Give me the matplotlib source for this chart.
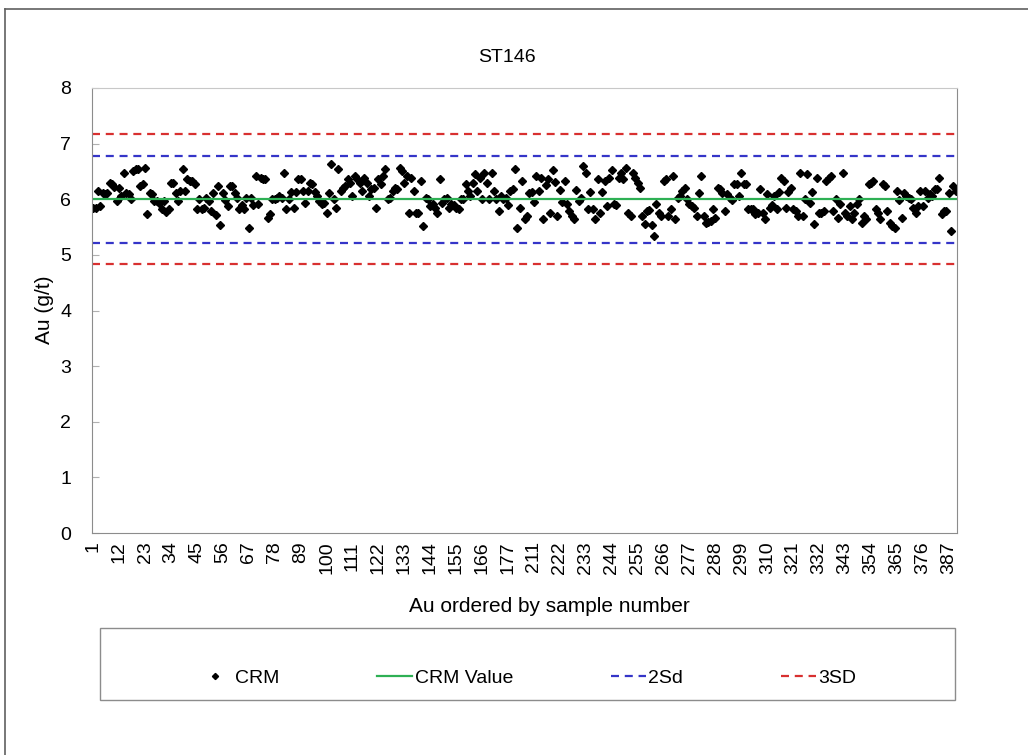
import numpy as np
import matplotlib.pyplot as plt
from matplotlib.lines import Line2D
from matplotlib.patches import Rectangle

plt.rcParams['font.family'] = ['Liberation Sans', 'DejaVu Sans']

# Numery próbek (oś kategorii) - luka w numeracji po próbce 182
sample_no = list(range(1, 183)) + list(range(206, 391))

# Wyniki Au [g/t] dla wzorca CRM, w kolejności numerów próbek
au = [
    5.85, 5.85, 6.15, 5.87, 6.12, 6.09, 6.11, 6.30, 6.27, 6.22,
    5.97, 6.21, 6.06, 6.48, 6.12, 6.09, 6.00, 6.50, 6.54, 6.54,
    6.24, 6.27, 6.57, 5.73, 6.11, 6.09, 5.97, 5.97, 5.94, 5.83,
    5.97, 5.77, 5.83, 6.30, 6.30, 6.12, 5.97, 6.15, 6.54, 6.15,
    6.36, 6.33, 6.33, 6.27, 5.82, 6.00, 5.82, 5.85, 6.03, 5.97,
    5.79, 6.12, 5.71, 6.24, 5.53, 6.11, 5.99, 5.87, 6.24, 6.24,
    6.12, 6.03, 5.83, 5.89, 5.82, 6.03, 5.49, 6.03, 5.89, 6.42,
    5.91, 6.39, 6.36, 6.36, 5.67, 5.73, 6.01, 6.00, 6.03, 6.06,
    6.03, 6.48, 5.82, 6.00, 6.13, 5.84, 6.13, 6.37, 6.36, 6.15,
    5.94, 6.15, 6.30, 6.27, 6.13, 6.06, 5.97, 5.91, 5.94, 5.76,
    6.12, 6.63, 6.00, 5.84, 6.54, 6.15, 6.21, 6.24, 6.36, 6.30,
    6.06, 6.42, 6.36, 6.30, 6.15, 6.39, 6.30, 6.06, 6.18, 6.21,
    5.84, 6.36, 6.27, 6.42, 6.54, 6.00, 6.03, 6.15, 6.21, 6.18,
    6.57, 6.51, 6.30, 6.42, 5.76, 6.39, 6.15, 5.76, 5.76, 6.33,
    5.52, 6.03, 6.00, 5.88, 5.91, 5.85, 5.76, 6.36, 5.94, 6.00,
    6.03, 5.85, 5.91, 5.89, 5.85, 5.82, 6.00, 6.00, 6.27, 6.15,
    6.06, 6.30, 6.45, 6.15, 6.39, 6.00, 6.48, 6.30, 6.00, 6.48,
    6.15, 6.00, 5.79, 6.06, 6.00, 6.03, 5.89, 6.15, 6.18, 6.54,
    5.49, 5.85, 6.33, 5.64, 5.70, 6.12, 6.13, 5.95, 6.41, 6.15,
    6.39, 5.64, 6.25, 6.37, 5.76, 6.53, 6.31, 5.70, 6.17, 5.95,
    6.33, 5.91, 5.79, 5.70, 5.64, 6.16, 5.97, 6.03, 6.60, 6.48,
    5.82, 6.13, 5.82, 5.64, 6.36, 5.76, 6.13, 6.33, 5.87, 6.39,
    6.53, 5.91, 5.89, 6.39, 6.47, 6.36, 6.56, 5.76, 5.70, 6.48,
    6.39, 6.30, 6.21, 5.69, 5.55, 5.79, 5.81, 5.53, 5.34, 5.91,
    5.76, 5.70, 6.33, 6.36, 5.70, 5.82, 6.42, 5.64, 6.03, 6.06,
    6.15, 6.21, 6.00, 5.91, 5.87, 5.85, 5.70, 6.12, 6.42, 5.70,
    5.58, 5.60, 5.61, 5.82, 5.67, 6.21, 6.18, 6.12, 5.79, 6.09,
    6.03, 5.99, 6.27, 6.27, 6.06, 6.48, 6.27, 6.27, 5.82, 5.82,
    5.82, 5.73, 5.76, 6.18, 5.76, 5.64, 6.09, 5.85, 5.89, 6.06,
    5.82, 6.13, 6.39, 6.33, 5.85, 6.13, 6.21, 5.82, 5.79, 5.70,
    6.48, 5.70, 6.00, 6.45, 5.94, 6.13, 5.55, 6.39, 5.76, 5.76,
    5.79, 6.33, 6.39, 6.42, 5.79, 6.00, 5.67, 5.91, 6.48, 5.76,
    5.70, 5.87, 5.64, 5.76, 5.91, 6.00, 5.58, 5.70, 5.65, 6.27,
    6.30, 6.33, 5.82, 5.76, 5.64, 6.27, 6.24, 5.79, 5.58, 5.52,
    5.49, 6.15, 5.99, 5.67, 6.12, 6.06, 6.03, 6.00, 5.85, 5.76,
    5.87, 6.15, 5.87, 6.15, 6.03, 6.09, 6.06, 6.18, 6.18, 6.39,
    5.73, 5.79, 5.79, 6.12, 5.43, 6.24, 6.15,
]

# Wartość certyfikowana i granice kontrolne
crm_value = 6.0
sd2_limits = [6.78, 5.22]
sd3_limits = [7.17, 4.83]

fs = 14
grey = '#8c8c8c'

fig = plt.figure(figsize=(10.28, 7.55), dpi=100)
ax = fig.add_axes([92 / 1028, 1 - 533 / 755, 865 / 1028, 445 / 755])

x = np.arange(len(au))
ax.plot(x, au, linestyle='none', marker='D', markersize=3.9, color='black', label='CRM')
ax.axhline(crm_value, color='#2eb054', lw=1.6, label='CRM Value')
for i, v in enumerate(sd2_limits):
    ax.axhline(v, color='#3535c8', lw=1.6, dashes=(3.6, 2.6), label='2Sd' if i == 0 else None)
for i, v in enumerate(sd3_limits):
    ax.axhline(v, color='#d83030', lw=1.6, dashes=(3.6, 2.6), label='3SD' if i == 0 else None)

ax.set_xlim(-0.5, len(au) - 0.5)
ax.set_ylim(0, 8)
ax.set_yticks(range(0, 9))
ax.tick_params(axis='y', labelsize=fs, direction='in', length=5, color='#b0b0b0', pad=15)

ticks = x[::11]
ax.set_xticks(ticks)
ax.set_xticklabels([str(sample_no[t]) for t in ticks], rotation=90, fontsize=fs)
ax.tick_params(axis='x', length=0, pad=6)

for s in ax.spines.values():
    s.set_color(grey)
ax.spines['top'].set_color('#c8c8c8')

fig.text(507 / 1028, 1 - 58 / 755, 'ST146', ha='center', va='center', fontsize=fs)
fig.text(549 / 1028, 1 - 606 / 755, 'Au ordered by sample number', ha='center', va='center', fontsize=15)
fig.text(45 / 1028, 1 - 310 / 755, 'Au (g/t)', ha='center', va='center', rotation=90, fontsize=15)

# Ramka wykresu i ramka legendy
fig.add_artist(Line2D([5 / 1028, 1.0], [1 - 9 / 755, 1 - 9 / 755], color='#606060', lw=1.2))
fig.add_artist(Line2D([5 / 1028, 5 / 1028], [0.0, 1 - 9 / 755], color='#606060', lw=1.2))
fig.add_artist(Rectangle((100 / 1028, 1 - 700 / 755), 855 / 1028, 72 / 755,
                         transform=fig.transFigure, fill=False, edgecolor=grey, lw=1))

fig.legend(loc='center', bbox_to_anchor=(527 / 1028, 1 - 678 / 755), ncol=4, frameon=False,
           fontsize=fs, handlelength=1.8, handletextpad=0.15, columnspacing=5.0,
           markerscale=0.8)

fig.savefig('out.png', dpi=100)
